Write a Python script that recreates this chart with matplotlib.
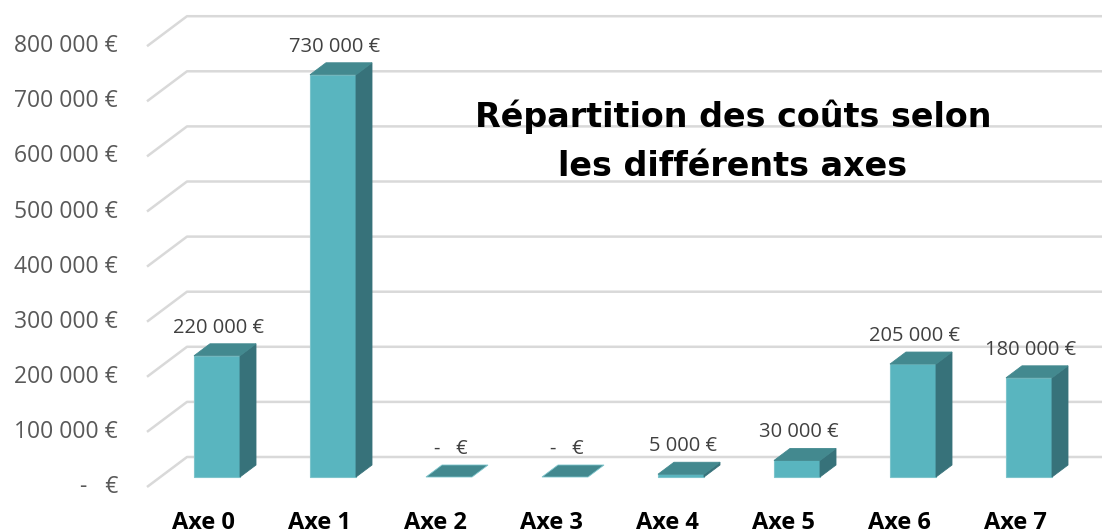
import matplotlib.pyplot as plt
from matplotlib.patches import Polygon
import numpy as np

# data
categories = ['Axe 0', 'Axe 1', 'Axe 2', 'Axe 3', 'Axe 4', 'Axe 5', 'Axe 6', 'Axe 7']
costs = [220000, 730000, 0, 0, 5000, 30000, 205000, 180000]
tick_values = np.arange(0, 800001, 100000)

title_lines = ['Répartition des coûts selon', 'les différents axes']

# colours of the fake 3d bars
front_col = '#59b5bf'
top_col = '#43898f'
side_col = '#37727a'
edge_col = '#7cc4cb'
grid_col = '#d9d9d9'

# scale of the chart (pixels -> data units)
px_x = 1 / 116.0          # categories per pixel
px_y = 100000 / 55.1      # euros per pixel

# depth of the floor, and of the bars (fraction of floor depth)
depth_x = 40 * px_x
depth_y = 30 * px_y
bar_depth = 0.4
bar_width = 46 * px_x
front_shift = 1 / 3       # bars stand 1/3 of the way into the floor


def fmt_euro(v):
    if v == 0:
        return '-   €'
    return f'{v:,}'.replace(',', ' ') + ' €'


fig = plt.figure(figsize=(11.02, 5.30), dpi=100)
ax = fig.add_axes([0, 0, 1, 1])
ax.set_xlim(-217 * px_x, (1102 - 217) * px_x)
ax.set_ylim(-53 * px_y, 477 * px_y)
ax.axis('off')

# wall / floor grid lines
wall_x = -0.6034
for v in tick_values:
    x_front = wall_x
    y_front = v - front_shift * depth_y
    x_back = wall_x + depth_x
    y_back = v + (1 - front_shift) * depth_y
    ax.plot([x_front, x_back, 8.0], [y_front, y_back, y_back],
            color=grid_col, lw=1.8, solid_capstyle='butt', zorder=1)
    ax.text(x_front - 29 * px_x, y_front, fmt_euro(v), ha='right', va='center',
            fontsize=16.5, color='#595959', family='Open Sans')

# bars
bdx = bar_depth * depth_x
bdy = bar_depth * depth_y
for i, (cat, v) in enumerate(zip(categories, costs)):
    x0 = i - bar_width / 2
    x1 = i + bar_width / 2
    if v > 0:
        ax.add_patch(Polygon([(x0, 0), (x1, 0), (x1, v), (x0, v)],
                             closed=True, fc=front_col, ec=edge_col, lw=0.8, zorder=3))
        ax.add_patch(Polygon([(x1, 0), (x1 + bdx, bdy), (x1 + bdx, v + bdy), (x1, v)],
                             closed=True, fc=side_col, ec=side_col, lw=0.6, zorder=3))
    ax.add_patch(Polygon([(x0, v), (x1, v), (x1 + bdx, v + bdy), (x0 + bdx, v + bdy)],
                         closed=True, fc=top_col, ec=edge_col if v == 0 else top_col,
                         lw=0.6, zorder=4))
    ax.text(i + bdx / 2 - 6 * px_x, v + bdy + 16 * px_y, fmt_euro(v),
            ha='center', va='center', fontsize=14.5, color='#404040', family='Open Sans')
    # category label at the front edge of the floor (cut by the bottom edge, as in the original)
    ax.text(i - front_shift * depth_x, -front_shift * depth_y - 24 * px_y, cat,
            ha='center', va='top', fontsize=17, fontweight='bold', color='black',
            family='Open Sans')

for k, line in enumerate(title_lines):
    fig.text(733 / 1102, 1 - (117 + 50 * k) / 530, line, ha='center', va='center',
             fontsize=24, fontweight='bold', family='DejaVu Sans', color='black')

fig.savefig('out.png', dpi=100)
